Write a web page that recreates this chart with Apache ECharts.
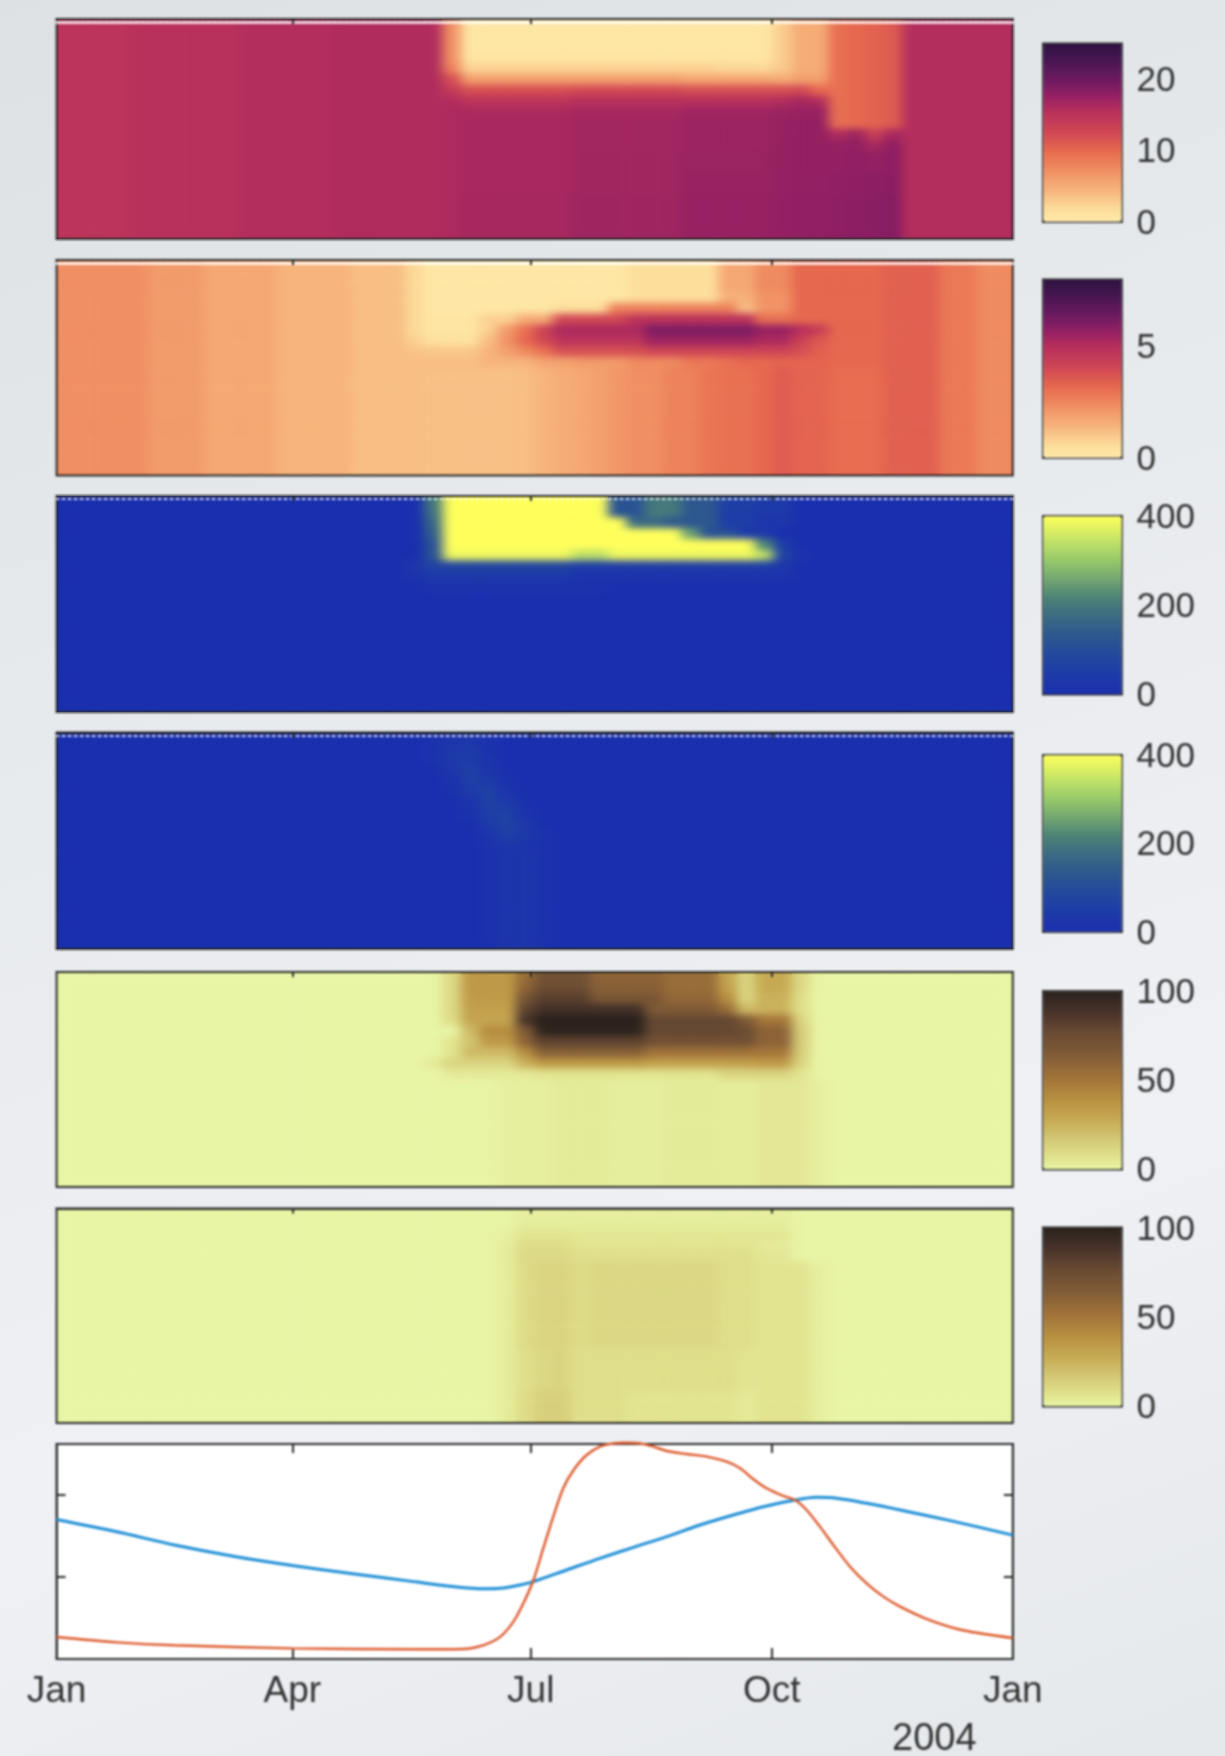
<!DOCTYPE html>
<html><head><meta charset="utf-8">
<script src="https://cdn.jsdelivr.net/npm/echarts@6/dist/echarts.min.js"></script>
<style>
html,body{margin:0;padding:0;width:1225px;height:1756px;overflow:hidden;
background:linear-gradient(160deg,#dde1e4 0%,#e6e9ec 30%,#eff1f5 70%,#e5e8eb 100%);}
.l{position:absolute;left:0;top:0;width:1225px;height:1756px;}
#soft{filter:url(#b);}
#c{filter:blur(0.8px);}
</style></head><body>
<svg width="0" height="0" style="position:absolute"><filter id="b" x="0" y="0" width="100%" height="100%" color-interpolation-filters="sRGB"><feGaussianBlur stdDeviation="6 3.5"/></filter></svg>
<div id="wrap" class="l"><div id="base" class="l"></div><div id="soft" class="l"></div></div>
<div id="c" class="l"></div>
<script>
// ---- time axis (2003, day of year) ----
const tickDays=[0,90,181,273,365];
const tickLabels=['Jan','Apr','Jul','Oct','Jan'];
const yearLabel='2004';
const weeks=Array.from({length:52},(_,i)=>i);
const depths=Array.from({length:20},(_,i)=>i);

// ---- heat panels, each row is a list of value,runLength pairs (52 weeks) ----
const L1=[15,4,15.4,6,15.8,5,16,6];
const O1=[9.5,1,10,1,10.5,1,11,1];
const R1=[15.8,6];
const panel1Rows=[
[...L1,7,1,.4,17,2.8,1,5,2,...O1,...R1],
[...L1,7,1,.4,17,2.8,1,5,2,...O1,...R1],
[...L1,7,1,.5,17,2.8,1,5,2,...O1,...R1],
[...L1,7,1,.6,17,2.8,1,5,2,...O1,...R1],
[...L1,8,1,2.4,14,2,3,3,1,5,2,...O1,...R1],
[...L1,12,1,6,12,5.5,5,5,1,6,2,...O1,...R1],
[...L1,14,1,12,6,12.5,6,12,5,12,1,12.5,1,10,1,...O1,...R1],
[...L1,16,1,15,6,15.5,6,15.5,5,16,1,16.5,1,16,1,...O1,...R1],
[...L1,16.2,1,16.3,6,16.6,6,17,5,17.3,1,17.5,2,...O1,...R1],
[...L1,16.2,1,16.5,6,16.8,6,17.2,5,17.5,1,17.7,2,...O1,...R1],
[...L1,16.2,1,16.5,6,16.8,6,17.2,5,17.5,1,17.7,2,16,1,17,1,13.5,1,16.5,1,...R1],
[...L1,16.2,1,16.5,6,16.8,6,17.2,5,17.6,1,17.7,2,17.6,1,17.8,1,16.5,1,18,1,...R1],
[...L1,16.2,1,16.5,6,16.9,6,17.3,5,17.6,1,17.7,2,17.7,1,17.9,1,17.7,1,18.2,1,...R1],
[...L1,16.2,1,16.5,6,16.9,6,17.3,5,17.6,1,17.7,2,17.7,1,17.9,1,17.7,1,18.2,1,...R1],
[...L1,16.2,1,16.5,6,16.9,6,17.4,5,17.6,1,17.8,2,17.9,1,18,1,18.1,1,18.3,1,...R1],
[...L1,16.2,1,16.5,6,16.9,6,17.4,5,17.6,1,17.8,2,17.9,1,18,1,18.1,1,18.3,1,...R1],
[...L1,16.2,1,16.6,6,17,6,17.5,5,17.7,1,17.9,2,18,1,18.1,1,18.3,1,18.5,1,...R1],
[...L1,16.2,1,16.6,6,17,6,17.5,5,17.7,1,17.9,2,18,1,18.1,1,18.3,1,18.5,1,...R1],
[...L1,16.2,1,16.6,6,17,6,17.5,5,17.7,1,17.9,2,18,1,18.1,1,18.3,1,18.5,1,...R1],
[...L1,16.2,1,16.6,6,17,6,17.5,5,17.7,1,17.9,2,18,1,18.1,1,18.3,1,18.5,1,...R1]
];
const L2=[2.3,5,2,3,1.7,4,1.4,4,1.2,3];
const R2=[3.2,5,3.4,3,2.8,2,2.4,2];
const R2b=[3.4,3,2.8,2,2.4,2];
const deep2=[...L2,1.2,1,1.15,5,1.2,1,1.4,1,1.6,1,1.7,1,1.9,1,2.1,1,2.3,2,2.6,2,2.9,1,3,2,3.2,1,3.5,1,3.3,2,3.1,3,...R2b];
const panel2Rows=[
[...L2,.6,1,.1,11,.5,5,1.7,2,2.4,2,...R2],
[...L2,.6,1,.1,11,.5,5,1.7,2,2.4,2,...R2],
[...L2,.6,1,.1,11,.5,5,1.7,2,2.4,2,...R2],
[...L2,.6,1,.1,11,.5,5,1.5,2,2.2,2,...R2],
[...L2,.6,1,.1,7,.5,3,2.6,3,2.6,4,1.2,1,2.2,2,...R2],
[...L2,.6,1,.2,3,.8,2,1.6,2,4,4,4.8,7,3,2,...R2],
[...L2,.6,1,.2,3,.8,1,2,1,3,1,4.2,1,5.2,5,6.1,6,5.6,2,5,1,4.4,1,3.2,3,...R2b],
[...L2,.8,1,.4,3,1.2,1,2.2,1,3.2,1,4,1,4.8,5,5.5,6,5.2,2,4.2,1,3.6,1,3.2,3,...R2b],
[...L2,1.1,1,1,3,1.4,1,1.9,1,2.4,1,3,1,3.8,5,4.1,6,4.1,2,3.8,1,3.4,1,3.2,3,...R2b],
[...L2,1.2,1,1.2,3,1.4,3,1.8,2,2,3,2.4,3,2.8,2,3,1,3.2,2,3.3,3,3.2,3,...R2b],
deep2,deep2,deep2,deep2,deep2,deep2,deep2,deep2,deep2,deep2
];
const panel3Rows=[
[0,20,200,1,400,9,120,2,200,2,130,2,60,2,40,2],
[0,20,190,1,400,9,120,2,200,2,130,2,50,2,35,2],
[0,20,170,1,400,10,170,2,130,3,50,2,25,2],
[0,20,150,1,400,13,250,1,110,2,40,2],
[0,20,120,1,400,17,220,1,50,1],
[0,20,120,1,385,7,340,2,385,8,340,1,70,1,15,1],
[0,19,30,1,70,8,50,11,30,1],
[0,19,15,1,35,8,15,12],
[0,20,10,10],
[],[],[],[],[],[],[],[],[],[],[]
];
const low4=[0,23,8,1,18,1,25,1,12,1];
const panel4Rows=[
[0,20,8,1,24,1,30,1,10,1],[0,20,10,1,32,1,40,1,12,1],[0,20,12,1,40,1,50,1,20,1],[0,21,28,1,58,1,26,1],
[0,21,12,1,58,1,42,1,10,1],[0,21,8,1,42,1,62,1,22,1],[0,22,20,1,62,1,42,1,8,1],[0,22,12,1,52,1,62,1,14,1],
[0,23,42,1,62,1,32,1],[0,23,20,1,56,1,40,1,10,1],[0,23,12,1,28,1,24,1,10,1],
low4,low4,low4,low4,low4,low4,low4,low4,low4
];
const low5=[0,24,2,3,3.5,3,2.5,3,3.5,3,3,2,4.5,3,2,1];
const panel5Rows=[
[0,21,10,1,35,3,55,1,72,3,60,4,55,3,30,1,12,1,28,2,10,1],
[0,21,10,1,35,3,60,1,75,3,62,4,55,3,32,1,12,1,28,2,10,1],
[0,21,10,1,34,3,70,1,82,3,68,4,58,3,40,1,12,1,25,2,8,1],
[0,21,10,1,32,3,80,1,90,6,65,4,55,1,22,1,25,2,8,1],
[0,21,9,1,30,3,88,1,100,6,78,5,65,1,50,2,12,1],
[0,22,22,1,40,2,65,1,98,6,78,5,75,1,60,2,15,1],
[0,21,6,1,18,1,35,2,60,1,80,6,72,6,60,2,15,1],
[0,21,6,1,22,3,40,1,62,6,52,6,50,2,14,1],
[0,20,4,1,12,4,25,1,35,6,32,6,35,2,12,1],
[0,21,4,5,6,10,12,4,6,1],
low5,low5,low5,low5,low5,low5,low5,low5,low5,low5
];
const mid6=[0,24,3,1,9,1,12,2,9,1,11,7,8,2,6,3,2,1];
const low6=[0,24,3,1,8,1,11,1,12,1,8,9,6,1,6,3,2,1];
const base6=[0,24,3,1,9,1,14,2,8,3,6,6,4,1,6,3,2,1];
const panel6Rows=[
[0,25,2,15],[0,25,3,15],[0,24,2,1,6,3,5,12],[0,24,3,1,9,3,6,10,4,2],[0,24,3,1,10,3,8,10,5,2],
mid6,mid6,mid6,mid6,mid6,mid6,mid6,mid6,
low6,low6,low6,low6,
base6,base6,base6
];

// ---- line panel (day of year, value) ----
const blueLine=[[0,1.70],[23,1.55],[45,1.39],[68,1.25],[90,1.14],[113,1.04],[137,.94],[152,.88],[163,.855],[169.3,.861],[176.9,.902],[182,.943],[194.7,1.085],[207.4,1.227],[220.2,1.361],[232.9,1.491],[245.6,1.633],[258.3,1.755],[271,1.865],[281.9,1.938],[290.1,1.97],[297.8,1.958],[309.2,1.897],[322,1.816],[342,1.68],[365,1.51]];
const redLine=[[0,.268],[23,.203],[45,.167],[90,.13],[137,.118],[155,.122],[163,.17],[169.3,.27],[174.4,.455],[178.2,.68],[182,.96],[185.8,1.35],[189.6,1.735],[193.4,2.08],[197.3,2.30],[202.3,2.486],[207.4,2.588],[212.5,2.628],[217.6,2.636],[222.7,2.628],[227.8,2.588],[232.9,2.535],[240.5,2.498],[248.2,2.466],[255.8,2.405],[260.9,2.324],[266,2.19],[271,2.08],[277.4,1.987],[281.9,1.938],[286.3,1.816],[291.4,1.613],[296.5,1.39],[302.9,1.125],[309.2,.922],[315.6,.76],[322,.638],[332,.49],[346,.35],[365,.256]];
const lineTicks=[1,2];

// ---- colour maps and colour bars ----
const matter=['#fee9a8','#fde09c','#f7b67d','#f09063','#e76a4f','#cf4654','#b8305c','#931f63','#6a1a60','#441550','#2f1240'];
const matterStops=[0,.06,.17,.284,.395,.507,.62,.71,.806,.918,1];
const green=['#1a2fae','#1e3ca8','#234a9c','#2f5a8c','#3d7080','#4f8576','#74a871','#9acb6a','#c6e566','#ffff5c'];
const greenStops=[0,.12,.23,.35,.46,.55,.65,.76,.87,1];
const turbid=['#e8f5a5','#e1e38e','#d5c978','#c8ac55','#b99141','#a5763a','#7f5a36','#6a4c33','#4b352b','#2a211c'];
const turbidStops=[0,.065,.16,.27,.385,.5,.65,.76,.87,1];

const rowsList=[panel1Rows,panel2Rows,panel3Rows,panel4Rows,panel5Rows,panel6Rows];
const barMax=[25,8,400,400,100,100];
const barTicks=[[0,10,20],[0,5],[0,200,400],[0,200,400],[0,50,100],[0,50,100]];
const maps=[matter,matter,green,green,turbid,turbid];
const stops=[matterStops,matterStops,greenStops,greenStops,turbidStops,turbidStops];

// layout
const panelLeft=56.6,panelWidth=956.2;
const panelTop=[19,260,496,732.5,972,1208.5,1444];
const panelBottom=[239,475.5,712,949,1187,1423,1659];
const barLeft=1042,barWidth=78.5;
const barTop=[42.5,278.5,515,754,990,1226.5];
const barBottom=[220.5,456.5,693,930.5,1168,1405];
const barLabelShift=3.4;

function expand(runs){const a=[];for(let i=0;i<runs.length;i+=2){for(let k=0;k<runs[i+1];k++)a.push(runs[i]);}
  while(a.length<52)a.push(0);return a.slice(0,52);}
function cells(rows){const d=[];rows.forEach((r,y)=>expand(r).forEach((v,x)=>d.push([x,y,v])));return d;}
function toEven(cols,st){const n=41,out=[];const h=c=>[1,3,5].map(i=>parseInt(c.substr(i,2),16));
  for(let i=0;i<n;i++){const t=i/(n-1);let k=0;while(k<st.length-2&&t>st[k+1])k++;
    const f=(t-st[k])/(st[k+1]-st[k]);const a=h(cols[k]),b=h(cols[k+1]);
    out.push('rgb('+a.map((v,j)=>Math.round(v+(b[j]-v)*f)).join(',')+')');}
  return out;}

// ---- heat layers: same cells, one sharp, one softened on top, clipped to the panels ----
function heatOption(){
  return {animation:false,
    grid:rowsList.map((r,i)=>({left:panelLeft,top:panelTop[i],width:panelWidth,height:panelBottom[i]-panelTop[i]})),
    xAxis:rowsList.map((r,i)=>({type:'category',gridIndex:i,data:weeks,show:false})),
    yAxis:rowsList.map((r,i)=>({type:'category',gridIndex:i,data:depths,inverse:true,show:false})),
    visualMap:rowsList.map((r,i)=>({type:'continuous',show:false,seriesIndex:i,min:0,max:barMax[i],inRange:{color:toEven(maps[i],stops[i])}})),
    series:rowsList.map((r,i)=>({type:'heatmap',xAxisIndex:i,yAxisIndex:i,data:cells(r),progressive:0,animation:false,emphasis:{disabled:true}}))};
}
echarts.init(document.getElementById('base')).setOption(heatOption());
echarts.init(document.getElementById('soft')).setOption(heatOption());
document.getElementById('wrap').style.clipPath='path("'+rowsList.map((r,i)=>
  `M${panelLeft} ${panelTop[i]}H${panelLeft+panelWidth}V${panelBottom[i]}H${panelLeft}Z`).join('')+'")';

// ---- frame layer: borders, ticks, colour bars, labels, lines ----
const dark='#2b2b2b';
const grids=[],xAxes=[],yAxes=[],series=[],vms=[];
const lbl={fontFamily:'"Liberation Sans",Arial,sans-serif',color:'#333'};
const tickStyle={color:dark,width:2};

rowsList.forEach((rows,i)=>{
  grids.push({left:panelLeft,top:panelTop[i],width:panelWidth,height:panelBottom[i]-panelTop[i],show:true,
    backgroundColor:'transparent',borderColor:dark,borderWidth:2});
  yAxes.push({type:'value',gridIndex:i,min:0,max:1,show:false});
  xAxes.push({type:'value',gridIndex:i,min:0,max:365,position:'top',z:6,
    axisLine:{show:true,onZero:false,lineStyle:{color:dark,width:2}},
    axisTick:{show:true,inside:true,length:5,customValues:tickDays.slice(1,4),lineStyle:tickStyle},
    axisLabel:{show:false},splitLine:{show:false}});
  if(i<4){xAxes.push({type:'value',gridIndex:i,min:0,max:365,position:'top',offset:-3,z:5,
    axisLine:{show:true,onZero:false,lineStyle:{color:'rgba(255,255,255,.8)',width:i<2?3:2,type:i<2?[4,2]:[2,4]}},axisTick:{show:false},axisLabel:{show:false},splitLine:{show:false}});}
  vms.push({type:'continuous',seriesIndex:[],min:0,max:barMax[i],left:barLeft,top:barTop[i],
    itemWidth:barWidth,itemHeight:barBottom[i]-barTop[i],padding:0,calculable:false,showLabel:false,
    borderColor:dark,borderWidth:2.4,text:null,inRange:{color:toEven(maps[i],stops[i])},hoverLink:false,orient:'vertical'});
  const b=grids.length;
});

rowsList.forEach((rows,i)=>{
  const g=grids.length;
  grids.push({left:barLeft,top:barTop[i]+barLabelShift,width:barWidth,height:barBottom[i]-barTop[i],show:false});
  xAxes.push({type:'value',gridIndex:g,min:0,max:1,show:false});
  yAxes.push({type:'value',gridIndex:g,min:0,max:barMax[i],position:'right',
    axisLine:{show:false},axisTick:{show:false},splitLine:{show:false},
    axisLabel:{...lbl,fontSize:35,margin:16,align:'left',customValues:barTicks[i],formatter:v=>String(v),showMinLabel:true,showMaxLabel:true}});
});

const g7=grids.length;
grids.push({left:panelLeft,top:panelTop[6],width:panelWidth,height:panelBottom[6]-panelTop[6],show:true,backgroundColor:'#fff',borderColor:dark,borderWidth:2});
const bx=xAxes.length,by=yAxes.length;
xAxes.push({type:'value',gridIndex:g7,min:0,max:365,position:'bottom',
  axisLine:{show:true,onZero:false,lineStyle:tickStyle},axisTick:{show:true,inside:true,length:11,customValues:tickDays.slice(1,4),lineStyle:tickStyle},
  axisLabel:{...lbl,fontSize:37,margin:14,customValues:tickDays,showMinLabel:true,showMaxLabel:true,formatter:v=>tickLabels[tickDays.indexOf(v)]},splitLine:{show:false}});
xAxes.push({type:'value',gridIndex:g7,min:0,max:365,position:'top',
  axisLine:{show:true,onZero:false,lineStyle:tickStyle},axisTick:{show:true,inside:true,length:9,customValues:tickDays.slice(1,4),lineStyle:tickStyle},axisLabel:{show:false},splitLine:{show:false}});
yAxes.push({type:'value',gridIndex:g7,min:0,max:2.62,position:'left',
  axisLine:{show:true,onZero:false,lineStyle:tickStyle},axisTick:{show:true,inside:true,length:9,customValues:lineTicks,lineStyle:tickStyle},axisLabel:{show:false},splitLine:{show:false}});
yAxes.push({type:'value',gridIndex:g7,min:0,max:2.62,position:'right',
  axisLine:{show:true,onZero:false,lineStyle:tickStyle},axisTick:{show:true,inside:true,length:9,customValues:lineTicks,lineStyle:tickStyle},axisLabel:{show:false},splitLine:{show:false}});
series.push({type:'line',xAxisIndex:bx,yAxisIndex:by,data:blueLine,smooth:.3,showSymbol:false,clip:false,lineStyle:{color:'#1f8fd6',width:3},animation:false});
series.push({type:'line',xAxisIndex:bx,yAxisIndex:by,data:redLine,smooth:.3,showSymbol:false,clip:false,lineStyle:{color:'#dd5a2c',width:2.4},animation:false});

const chart=echarts.init(document.getElementById('c'));
chart.setOption({animation:false,
  title:{text:yearLabel,left:887,top:1716,textStyle:{...lbl,fontSize:38,fontWeight:'normal'}},
  grid:grids,xAxis:xAxes,yAxis:yAxes,visualMap:vms,series:series});
</script></body></html>
